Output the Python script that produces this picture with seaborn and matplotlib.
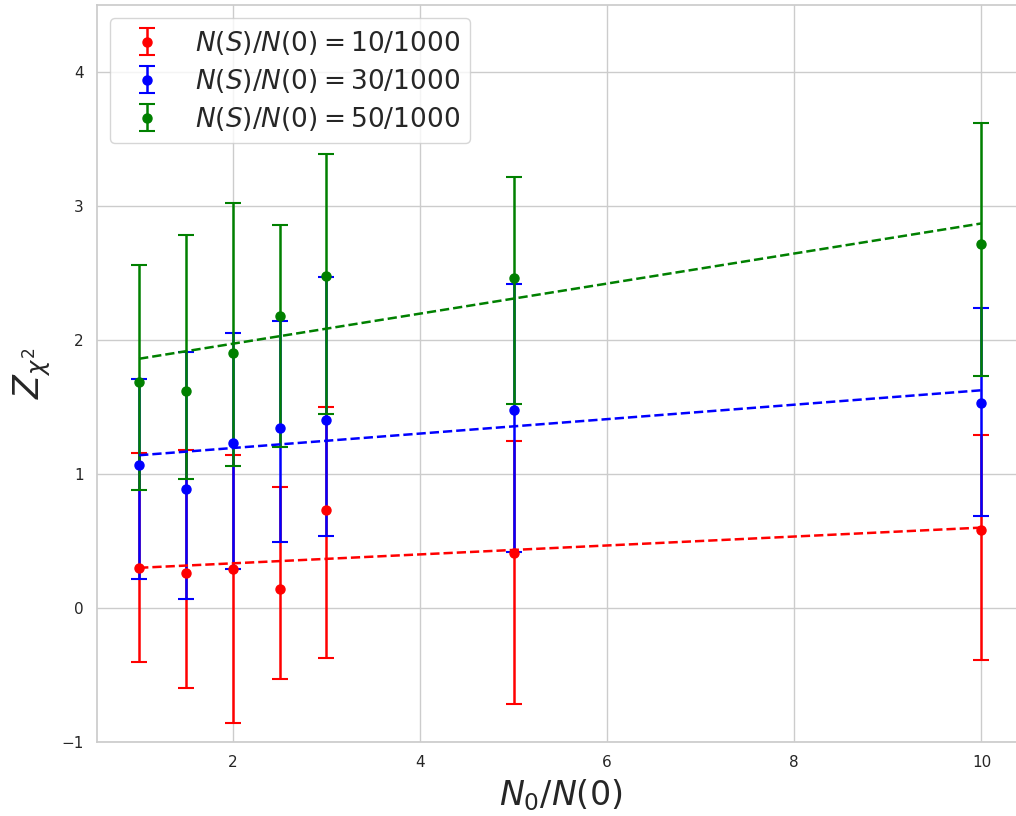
import numpy as np
import pandas as pd
import matplotlib
matplotlib.use("Agg")
import matplotlib.pyplot as plt
import seaborn as sns

x = [1, 1.5, 2, 2.5, 3, 5, 10]

labels = [r"$N(S)/N(0) = 10/1000$", r"$N(S)/N(0) = 30/1000$", r"$N(S)/N(0) = 50/1000$"]
colors = ["red", "blue", "green"]

red_y = [0.30, 0.26, 0.29, 0.14, 0.73, 0.41, 0.58]
red_hi = [1.16, 1.18, 1.14, 0.90, 1.50, 1.25, 1.29]
red_lo = [-0.40, -0.60, -0.86, -0.53, -0.37, -0.72, -0.39]

blue_y = [1.07, 0.89, 1.23, 1.34, 1.40, 1.48, 1.53]
blue_hi = [1.71, 1.91, 2.05, 2.14, 2.47, 2.42, 2.24]
blue_lo = [0.22, 0.07, 0.29, 0.49, 0.54, 0.42, 0.69]

green_y = [1.69, 1.62, 1.90, 2.18, 2.48, 2.46, 2.72]
green_hi = [2.56, 2.78, 3.02, 2.86, 3.39, 3.22, 3.62]
green_lo = [0.88, 0.96, 1.06, 1.20, 1.45, 1.52, 1.73]

fit_x = [1, 10]
red_fit = [0.30, 0.60]
blue_fit = [1.14, 1.625]
green_fit = [1.86, 2.87]

sns.set_theme(style="whitegrid")
fig = plt.figure(figsize=(10.16, 8.16), dpi=100)
ax = fig.add_axes([97/1016, 74/816, 926.6/1016, 737/816])

series = [(red_y, red_hi, red_lo, red_fit),
          (blue_y, blue_hi, blue_lo, blue_fit),
          (green_y, green_hi, green_lo, green_fit)]

for (yv, hi, lo, fit), c, lab in zip(series, colors, labels):
    yv = np.array(yv); hi = np.array(hi); lo = np.array(lo)
    ax.errorbar(x, yv, yerr=[yv - lo, hi - yv], fmt="o", color=c, ecolor=c,
                capsize=6, elinewidth=1.8, capthick=1.5, markersize=6.5, label=lab, zorder=3)
    fdf = pd.DataFrame({"x": fit_x, "y": fit})
    sns.lineplot(data=fdf, x="x", y="y", ax=ax, color=c, linestyle="--", linewidth=1.8, zorder=4)

ax.set_xlim(0.55, 10.45)
ax.set_ylim(-1, 4.5)
ax.set_yticks([-1, 0, 1, 2, 3, 4])
ax.set_xticks([2, 4, 6, 8, 10])
ax.set_xlabel(r"$N_0/N(0)$", fontsize=24, labelpad=5)
ax.set_ylabel(r"$Z_{\chi^2}$", fontsize=25, labelpad=6)
ax.tick_params(labelsize=11)
ax.legend(loc="upper left", fontsize=19, labelspacing=0.38)

fig.savefig("out.png", dpi=100)
